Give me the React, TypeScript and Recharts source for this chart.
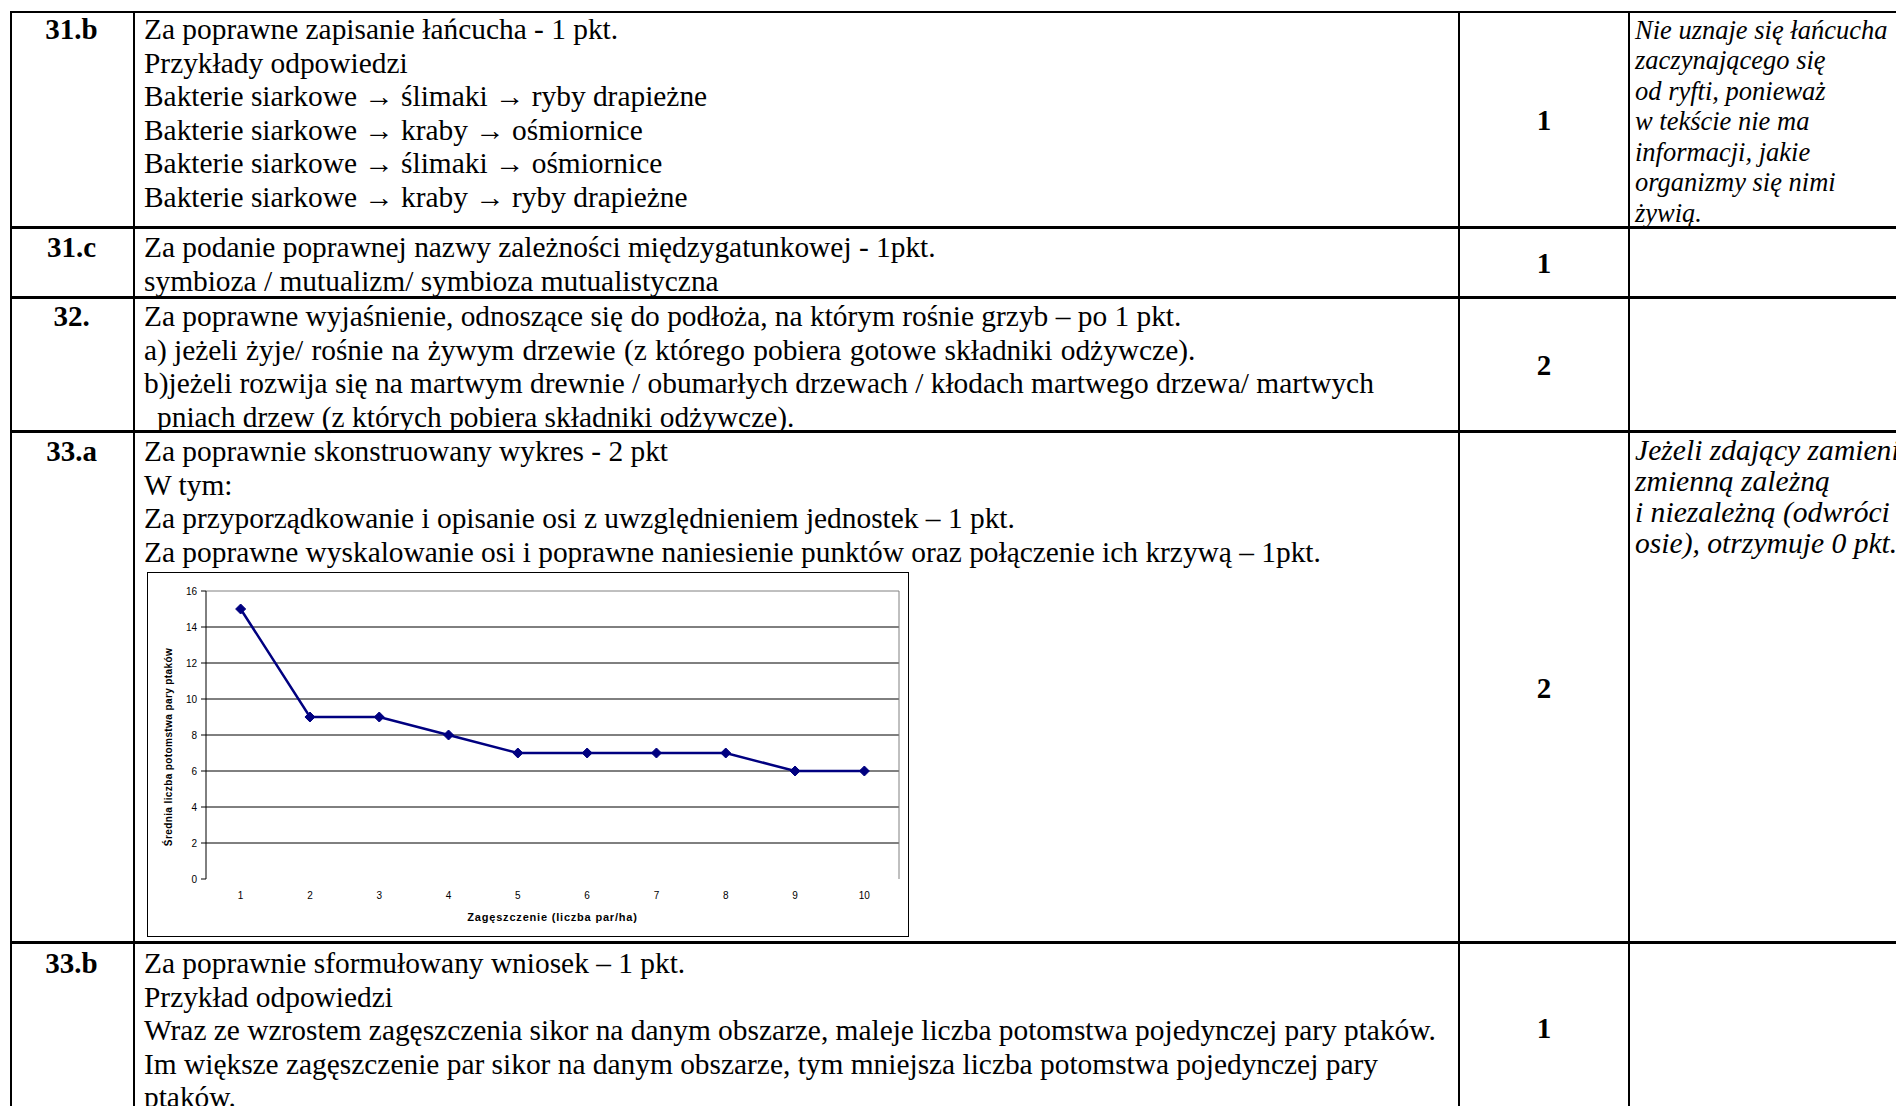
import React from 'react';
import { LineChart, Line, XAxis, YAxis, CartesianGrid, ReferenceLine } from 'recharts';

// ---- chart data ----
const density = [1, 2, 3, 4, 5, 6, 7, 8, 9, 10];
const offspring = [15, 9, 9, 8, 7, 7, 7, 7, 6, 6];
const yTicks = [0, 2, 4, 6, 8, 10, 12, 14, 16];
const gridValues = [2, 4, 6, 8, 10, 12, 14];
const xBoundaryTicks = [0.5, 1.5, 2.5, 3.5, 4.5, 5.5, 6.5, 7.5, 8.5, 9.5, 10.5];
const xAxisTitle = 'Zagęszczenie (liczba par/ha)';
const yAxisTitle = 'Średnia liczba potomstwa pary ptaków';

// ---- table text ----
const row31bLines = [
  'Za poprawne zapisanie łańcucha - 1 pkt.',
  'Przykłady odpowiedzi',
  'Bakterie siarkowe → ślimaki → ryby drapieżne',
  'Bakterie siarkowe → kraby → ośmiornice',
  'Bakterie siarkowe → ślimaki → ośmiornice',
  'Bakterie siarkowe → kraby → ryby drapieżne',
];
const row31bNote = [
  'Nie uznaje się łańcucha',
  'zaczynającego się',
  'od ryfti, ponieważ',
  'w tekście nie ma',
  'informacji, jakie',
  'organizmy się nimi',
  'żywią.',
];
const row31cLines = [
  'Za podanie poprawnej nazwy zależności międzygatunkowej - 1pkt.',
  'symbioza / mutualizm/ symbioza mutualistyczna',
];
const row32Head = 'Za poprawne wyjaśnienie, odnoszące się do podłoża, na którym rośnie grzyb – po 1 pkt.';
const row32A = 'jeżeli żyje/ rośnie na żywym drzewie (z którego pobiera gotowe składniki odżywcze).';
const row32B = 'jeżeli rozwija się na martwym drewnie / obumarłych drzewach / kłodach martwego drzewa/ martwych';
const row32C = 'pniach drzew (z których pobiera składniki odżywcze).';
const row33aLines = [
  'Za poprawnie skonstruowany wykres - 2 pkt',
  'W tym:',
  'Za przyporządkowanie i opisanie osi z uwzględnieniem jednostek – 1 pkt.',
  'Za poprawne wyskalowanie osi i poprawne naniesienie punktów oraz połączenie ich krzywą – 1pkt.',
];
const row33aNote = [
  'Jeżeli zdający zamieni',
  'zmienną zależną',
  'i niezależną (odwróci',
  'osie), otrzymuje 0 pkt.',
];
const row33bLines = [
  'Za poprawnie sformułowany wniosek – 1 pkt.',
  'Przykład odpowiedzi',
  'Wraz ze wzrostem zagęszczenia sikor na danym obszarze, maleje liczba potomstwa pojedynczej pary ptaków.',
  'Im większe zagęszczenie par sikor na danym obszarze, tym mniejsza liczba potomstwa pojedynczej pary',
  'ptaków.',
];

const chartData = density.map((d, i) => ({ x: d, y: offspring[i] }));

const SERIF = '"Liberation Serif", "Times New Roman", serif';
const SANS = '"Liberation Sans", Arial, sans-serif';

const Diamond = (props: any) => {
  const { cx, cy } = props;
  if (cx == null || cy == null) return null;
  const r = 5;
  return (
    <polygon
      points={`${cx},${cy - r} ${cx + r},${cy} ${cx},${cy + r} ${cx - r},${cy}`}
      fill="#000080"
      stroke="#000080"
      strokeWidth={1}
    />
  );
};

const mainText: React.CSSProperties = {
  position: 'absolute',
  left: 144,
  fontFamily: SERIF,
  fontSize: 29.4,
  lineHeight: '33.6px',
  whiteSpace: 'nowrap',
  color: '#000',
};
const noteText: React.CSSProperties = {
  position: 'absolute',
  left: 1635,
  fontFamily: SERIF,
  fontStyle: 'italic',
  fontSize: 26.5,
  lineHeight: '30.6px',
  whiteSpace: 'nowrap',
  color: '#000',
};
const labelText: React.CSSProperties = {
  position: 'absolute',
  left: 11,
  width: 121,
  textAlign: 'center',
  fontFamily: SERIF,
  fontWeight: 'bold',
  fontSize: 29,
  lineHeight: '33.6px',
  color: '#000',
};
const pointText: React.CSSProperties = {
  position: 'absolute',
  left: 1460,
  width: 168,
  textAlign: 'center',
  fontFamily: SERIF,
  fontWeight: 'bold',
  fontSize: 29,
  lineHeight: '33.6px',
  color: '#000',
};

const HLine = ({ y, h }: { y: number; h: number }) => (
  <div style={{ position: 'absolute', left: 10, top: y, width: 1886, height: h, background: '#000' }} />
);
const VLine = ({ x }: { x: number }) => (
  <div style={{ position: 'absolute', left: x, top: 11, width: 2, height: 1095, background: '#000' }} />
);

const Lines = ({ lines }: { lines: string[] }) => (
  <>
    {lines.map((l, i) => (
      <div key={i}>{l}</div>
    ))}
  </>
);

const Chart = () => (
  <LineChart width={760} height={363} data={chartData} margin={{ top: 18, right: 9, bottom: 0, left: 0 }}>
    <CartesianGrid xAxisId="labels" vertical={false} stroke="#000" strokeWidth={1} horizontalValues={gridValues} />
    <ReferenceLine xAxisId="labels" y={16} stroke="#808080" strokeWidth={1} />
    <ReferenceLine xAxisId="labels" x={10.5} stroke="#808080" strokeWidth={1} />
    <XAxis
      xAxisId="marks"
      type="number"
      dataKey="x"
      domain={[0.5, 10.5]}
      ticks={xBoundaryTicks}
      tick={false}
      tickSize={5}
      height={0}
      axisLine={{ stroke: '#000', strokeWidth: 1 }}
      tickLine={{ stroke: '#000', strokeWidth: 1 }}
      allowDataOverflow
    />
    <XAxis
      xAxisId="labels"
      type="number"
      dataKey="x"
      domain={[0.5, 10.5]}
      ticks={density}
      tickLine={false}
      axisLine={false}
      tickSize={6}
      tickMargin={7}
      height={57}
      allowDataOverflow
      tick={{ fontSize: 10, fill: '#000', fontFamily: SANS }}
      label={{
        value: xAxisTitle,
        position: 'insideBottom',
        offset: 15,
        style: { fontSize: 11, fontWeight: 'bold', fill: '#000', fontFamily: SANS, letterSpacing: 0.8 },
      }}
    />
    <YAxis
      type="number"
      domain={[0, 16]}
      ticks={yTicks}
      width={58}
      tickSize={5}
      tickMargin={4}
      axisLine={{ stroke: '#000', strokeWidth: 1 }}
      tickLine={{ stroke: '#000', strokeWidth: 1 }}
      tick={{ fontSize: 10, fill: '#000', fontFamily: SANS }}
      label={{
        value: yAxisTitle,
        angle: -90,
        position: 'center',
        dx: -9,
        dy: 12,
        style: {
          fontSize: 10,
          fontWeight: 'bold',
          fill: '#000',
          fontFamily: SANS,
          textAnchor: 'middle',
          letterSpacing: 0.4,
        },
      }}
    />
    <Line
      xAxisId="labels"
      type="linear"
      dataKey="y"
      stroke="#000080"
      strokeWidth={2.5}
      dot={<Diamond />}
      activeDot={false}
      isAnimationActive={false}
    />
  </LineChart>
);

export default function App() {
  return (
    <div
      style={{
        position: 'absolute',
        left: 0,
        top: 0,
        width: 1896,
        height: 1106,
        overflow: 'hidden',
        background: '#fff',
      }}
    >
      {/* grid lines of the table */}
      <HLine y={11} h={2} />
      <HLine y={226} h={3} />
      <HLine y={296} h={3} />
      <HLine y={430} h={3} />
      <HLine y={941} h={3} />
      <VLine x={10} />
      <VLine x={133} />
      <VLine x={1458} />
      <VLine x={1628} />

      {/* row labels */}
      <div style={{ ...labelText, top: 13 }}>31.b</div>
      <div style={{ ...labelText, top: 231 }}>31.c</div>
      <div style={{ ...labelText, top: 300 }}>32.</div>
      <div style={{ ...labelText, top: 435 }}>33.a</div>
      <div style={{ ...labelText, top: 947 }}>33.b</div>

      {/* main text */}
      <div style={{ ...mainText, top: 13 }}>
        <Lines lines={row31bLines} />
      </div>
      <div style={{ ...mainText, top: 231 }}>
        <Lines lines={row31cLines} />
      </div>
      <div style={{ ...mainText, top: 300 }}>
        <div>{row32Head}</div>
        <div>
          <span style={{ display: 'inline-block', width: 30 }}>a)</span>
          <span style={{ wordSpacing: 1 }}>{row32A}</span>
        </div>
        <div>
          <span>b)</span>
          {row32B}
        </div>
        <div style={{ paddingLeft: 13 }}>{row32C}</div>
      </div>
      <div style={{ ...mainText, top: 435 }}>
        <Lines lines={row33aLines} />
      </div>
      <div style={{ ...mainText, top: 947 }}>
        <Lines lines={row33bLines} />
      </div>

      {/* notes */}
      <div style={{ ...noteText, top: 14.5 }}>
        <Lines lines={row31bNote} />
      </div>
      <div style={{ ...noteText, top: 434.5, fontSize: 29.6, lineHeight: '31px' }}>
        <Lines lines={row33aNote} />
      </div>

      {/* points */}
      <div style={{ ...pointText, top: 104 }}>1</div>
      <div style={{ ...pointText, top: 247 }}>1</div>
      <div style={{ ...pointText, top: 349 }}>2</div>
      <div style={{ ...pointText, top: 672 }}>2</div>
      <div style={{ ...pointText, top: 1012 }}>1</div>

      {/* chart */}
      <div
        style={{
          position: 'absolute',
          left: 147,
          top: 572,
          width: 760,
          height: 363,
          border: '1px solid #000',
          background: '#fff',
        }}
      >
        <Chart />
      </div>
    </div>
  );
}
